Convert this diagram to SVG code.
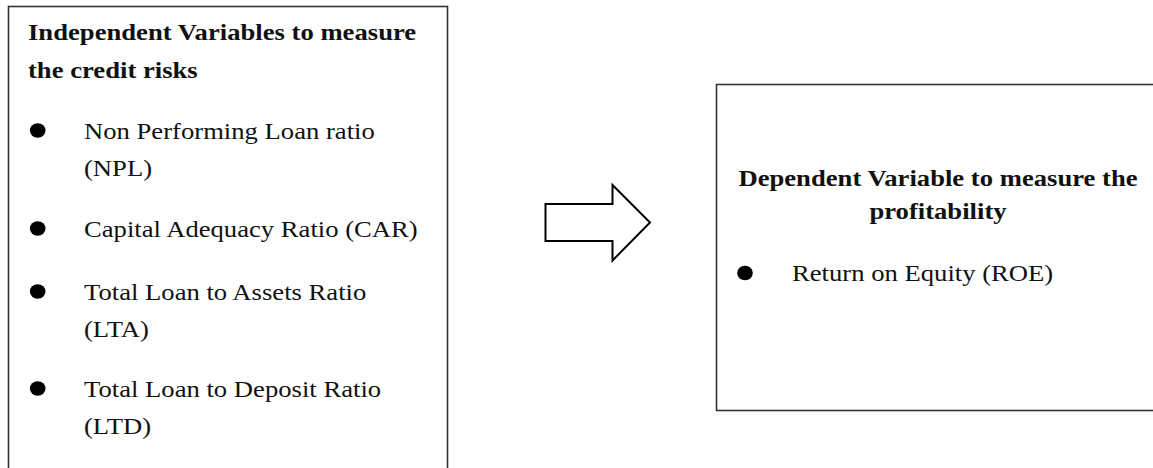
<svg xmlns="http://www.w3.org/2000/svg" width="1153" height="468" viewBox="0 0 1153 468">
<style>
.box{fill:#fff;stroke:#333;stroke-width:1.6}
.t{font-family:"Liberation Serif","Times New Roman",serif;font-size:22.7px;fill:#111}
.b{font-weight:bold}
.dot{fill:#000}
.arrow{fill:#fff;stroke:#000;stroke-width:2;stroke-linejoin:miter}
</style>
<rect width="1153" height="468" fill="#fff"/>
<g id="independent">
<rect class="box" x="8.5" y="6.5" width="439" height="480"/>
<text class="t b" transform="translate(28,40) scale(1.174,1)">Independent Variables to measure</text>
<text class="t b" transform="translate(28,78) scale(1.174,1)">the credit risks</text>
<ellipse class="dot" cx="37.7" cy="130.5" rx="7.8" ry="7.3"/>
<text class="t" transform="translate(84,139) scale(1.174,1)">Non Performing Loan ratio</text>
<text class="t" transform="translate(84,176) scale(1.174,1)">(NPL)</text>
<ellipse class="dot" cx="37.7" cy="228.5" rx="7.8" ry="7.3"/>
<text class="t" transform="translate(84,237) scale(1.174,1)">Capital Adequacy Ratio (CAR)</text>
<ellipse class="dot" cx="37.7" cy="291.5" rx="7.8" ry="7.3"/>
<text class="t" transform="translate(84,300) scale(1.174,1)">Total Loan to Assets Ratio</text>
<text class="t" transform="translate(84,337) scale(1.174,1)">(LTA)</text>
<ellipse class="dot" cx="37.7" cy="388.5" rx="7.8" ry="7.3"/>
<text class="t" transform="translate(84,397) scale(1.174,1)">Total Loan to Deposit Ratio</text>
<text class="t" transform="translate(84,434) scale(1.174,1)">(LTD)</text>
</g>
<g id="connectors">
<path class="arrow" d="M545.5,204 L612.5,204 L612.5,185 L650,222.5 L612.5,260.5 L612.5,241 L545.5,241 Z"/>
</g>
<g id="dependent">
<rect class="box" x="716.5" y="84.5" width="460" height="326"/>
<text class="t b" text-anchor="middle" transform="translate(938,185.5) scale(1.174,1)">Dependent Variable to measure the</text>
<text class="t b" text-anchor="middle" transform="translate(938,219) scale(1.174,1)">profitability</text>
<ellipse class="dot" cx="745" cy="273" rx="7.8" ry="7.3"/>
<text class="t" transform="translate(792,281) scale(1.174,1)">Return on Equity (ROE)</text>
</g>
</svg>
